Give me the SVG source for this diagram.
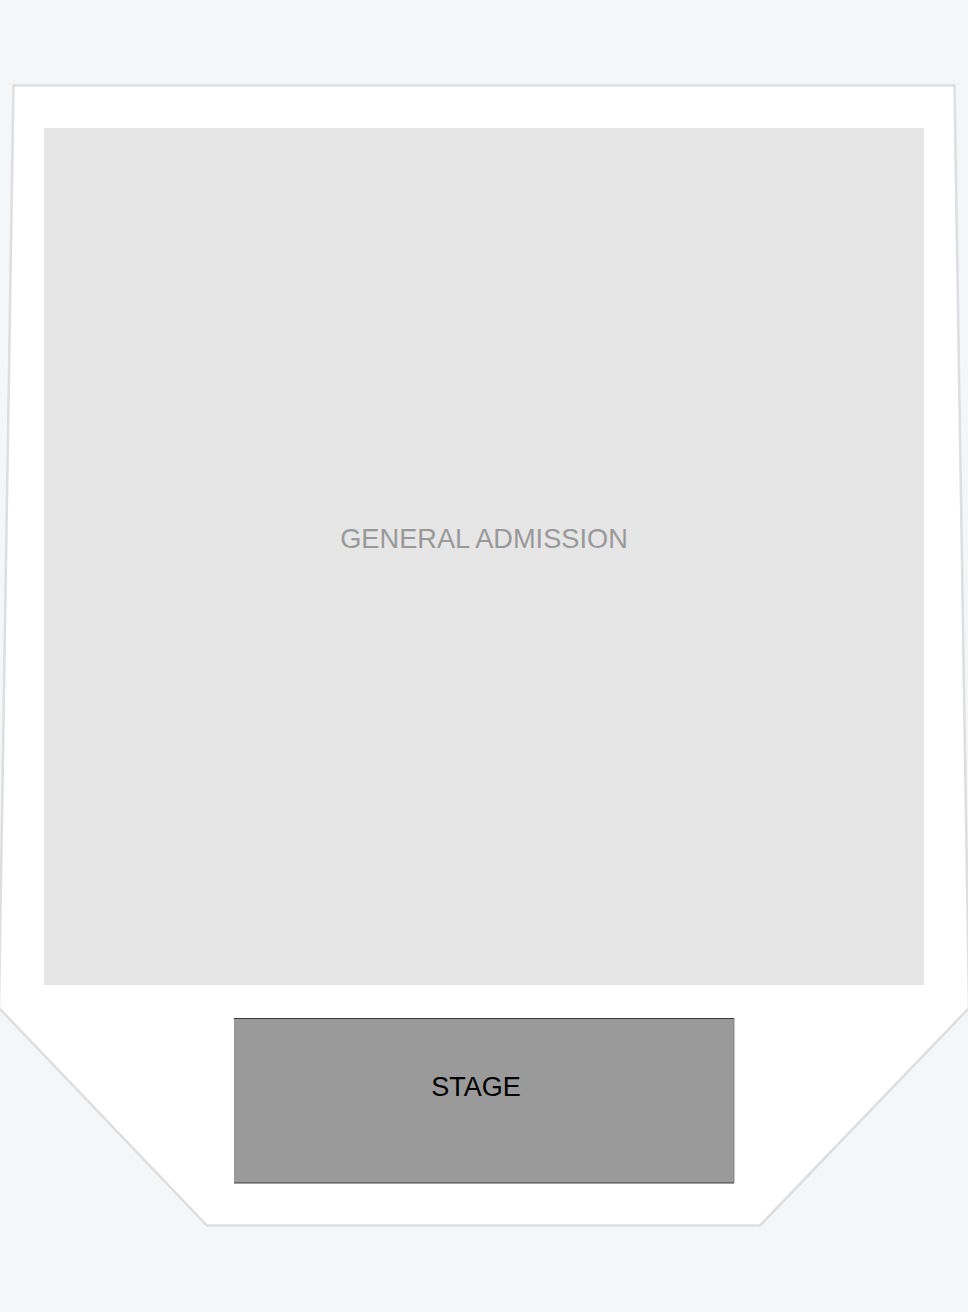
<svg xmlns="http://www.w3.org/2000/svg" width="968" height="1312" viewBox="0 0 968 1312">
  <style>
    .outline { fill: #ffffff; stroke: #dedede; stroke-width: 2.5; stroke-linejoin: miter; }
    .ga { fill: #e6e6e6; }
    .stage { fill: #9a9a9a; }
    .edge { stroke: #3a3a3a; stroke-width: 1.2; }
    .label { font-family: "Liberation Sans", Arial, sans-serif; text-anchor: middle; }
  </style>
  <rect x="0" y="0" width="968" height="1312" fill="#f5f6f8"/>
  <g id="venue">
    <polygon class="outline" points="13.5,85.5 954.5,85.5 969,1008 760,1225.5 207,1225.5 -1,1008"/>
  </g>
  <g id="general-admission">
    <rect class="ga" x="44" y="128" width="880" height="857"/>
    <text class="label" x="484" y="548" font-size="27.2" fill="#999999">GENERAL ADMISSION</text>
  </g>
  <g id="stage">
    <rect class="stage" x="234" y="1018" width="500" height="165"/>
    <line class="edge" x1="234" y1="1018.5" x2="734" y2="1018.5"/>
    <line class="edge" x1="234" y1="1183" x2="734" y2="1183"/>
    <line x1="734" y1="1018" x2="734" y2="1183" stroke="#777" stroke-width="0.8"/>
    <text class="label" x="476" y="1096" font-size="27" fill="#000000">STAGE</text>
  </g>
  <g id="connectors"/>
</svg>
